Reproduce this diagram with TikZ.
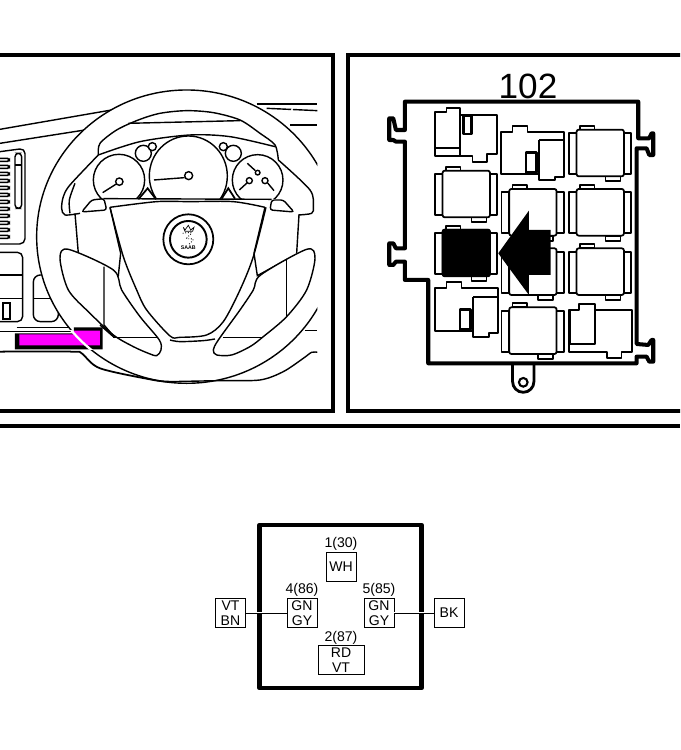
\documentclass[tikz,border=0pt]{standalone}
\usepackage{fontspec}
\setmainfont{Liberation Sans}
\usetikzlibrary{positioning}
\definecolor{marker}{RGB}{255,0,255}
\tikzset{
	panel/.style={line width=1.9pt},
	thinline/.style={line width=0.8pt},
	boxline/.style={line width=1pt, line join=round},
	pinbox/.style={draw, line width=0.4pt, minimum width=0.6cm, minimum height=0.58cm, inner sep=0pt, align=center, font=\fontsize{8}{8.6}\selectfont},
	pinlabel/.style={inner sep=0pt, font=\fontsize{8}{9}\selectfont},
	wire/.style={line width=0.5pt},
	relaybox/.pic={
		\draw[boxline] (0,22) rectangle (23,145);
		\draw[boxline] (165,22) rectangle (187,145);
		\draw[boxline] (33,0) rectangle (77,12);
		\draw[boxline] (110,152) rectangle (155,167);
		\draw[boxline, fill=white, rounded corners=1.2pt] (23,12) rectangle (165,152);
	}
}
\begin{document}
\begin{tikzpicture}[x=0.02cm, y=-0.02cm]
	\clip (0, 0) rectangle (680, 750);
	\draw[panel] (-10, 55) rectangle (333, 411);
	\draw[panel] (348, 55) rectangle (690, 411);
	\draw[panel] (0, 426) -- (680, 426);

	% dashboard and wheel
	\begin{scope}[yshift=-1.8cm, x=0.00667cm, y=-0.00667cm, thinline]
		\begin{scope}
			\clip (-10, 0) rectangle (952, 900);
			\draw (0, 118) -- (335, 60);
			\draw (0, 160) -- (255, 120);
			\draw[line width=1.4pt] (770, 42) -- (952, 42);
			\draw[dashed, dash pattern=on 14pt off 1pt] (800, 55) -- (952, 62);
			\draw (870, 105) -- (952, 105);
			\draw[rounded corners=3pt] (0, 185) -- (75, 175) -- (75, 462) -- (0, 462);
			\foreach \slat in {205, 226, ..., 450} {
				\draw[line width=0.9pt, rounded corners=1pt] (0, \slat) -- (28, \slat) -- (28, \slat+9) -- (0, \slat+9);
			}
			\draw[rounded corners=2pt] (45, 190) rectangle (65, 355);
			\draw (45, 225) -- (65, 225);
			\draw[rounded corners=3pt] (0, 487) -- (68, 487) -- (68, 695) -- (0, 695);
			\draw (0, 555) -- (68, 555);
			\draw (0, 625) -- (68, 625);
			\draw[line width=1pt] (8, 640) rectangle (30, 688);
			\draw[rounded corners=4pt] (100, 555) rectangle (175, 695);
			\draw (100, 625) -- (175, 625);
			\draw (50, 712) -- (222, 712);
			\draw (0, 725) -- (222, 725);

			\fill[white] (560, 440) ellipse [x radius=450, y radius=440];
			\fill[black] (45, 730) -- (222, 730) -- (222, 712) -- (308, 712) -- (308, 778) -- (45, 778) -- cycle;
			\fill[marker] (58, 733) -- (222, 733) -- (222, 722) -- (300, 722) -- (300, 766) -- (58, 766) -- cycle;
			\draw (560, 440) ellipse [x radius=450, y radius=440];
			\begin{scope}
				\clip (45, 722) rectangle (300, 778);
				\draw[white, line width=1.3pt] (560, 440) ellipse [x radius=450, y radius=440];
			\end{scope}
			\draw[line width=1pt] plot[smooth] coordinates {(0, 785) (215, 785) (245, 790) (300, 835) (460, 870) (510, 875)};

			% rim and hood
			\draw plot[smooth] coordinates {(295, 195) (300, 160) (350, 120) (415, 90) (480, 70) (560, 62) (640, 68) (720, 90) (780, 130) (825, 165) (835, 210)};
			\draw (385, 100) -- (720, 92);
			\draw plot[smooth] coordinates {(295, 195) (420, 155) (570, 135) (690, 140) (825, 170)};
			\draw plot[smooth] coordinates {(295, 195) (210, 285) (190, 320) (185, 355) (195, 375) (240, 370)};
			\draw plot[smooth] coordinates {(225, 280) (208, 330) (210, 370)};
			\draw plot[smooth] coordinates {(835, 210) (930, 300) (940, 350) (935, 370) (895, 375)};

			% gauges
			\begin{scope}
				\clip (200, 100) rectangle (900, 327);
				\draw[fill=white] (565, 258) ellipse [x radius=117, y radius=120];
				\draw[fill=white] (430, 190) circle [radius=24];
				\draw[fill=white] (457, 170) circle [radius=12];
				\draw[fill=white] (700, 190) circle [radius=24];
				\draw[fill=white] (670, 170) circle [radius=12];
				\draw[fill=white] (357, 270) circle [radius=77];
				\draw[fill=white] (773, 270) circle [radius=76];
			\end{scope}
			\draw (358, 275) circle [radius=11];
			\draw (308, 308) -- (349, 282);
			\draw (566, 257) circle [radius=12];
			\draw (462, 270) -- (554, 263);
			\draw (748, 272) circle [radius=9];
			\draw (795, 272) circle [radius=9];
			\draw (773, 248) circle [radius=7];
			\draw (718, 300) -- (741, 279);
			\draw (803, 279) -- (822, 302);
			\draw (742, 220) -- (766, 242);
			\draw[fill=white, line width=1pt] (415, 328) -- (443, 295) -- (468, 328);
			\draw[fill=white, line width=1pt] (665, 326) -- (685, 295) -- (705, 326);
			\draw (310, 326) -- (815, 328);
			\draw[fill=white, rounded corners=1.5pt] (245, 366) -- (275, 330) -- (312, 326) -- (320, 360) -- cycle;
			\draw[fill=white, rounded corners=1.5pt] (810, 360) -- (815, 330) -- (850, 330) -- (882, 366) -- cycle;

			% hub
			\draw (225, 370) -- (235, 490);
			\draw (897, 375) -- (890, 490);
			\draw plot[smooth] coordinates {(330, 352) (470, 335) (570, 335) (700, 335) (795, 352)};
			\draw plot[smooth] coordinates {(330, 352) (370, 500) (410, 600) (440, 660) (510, 738) (540, 742) (620, 735) (670, 695) (720, 600) (760, 500) (798, 352)};
			\draw (330, 352) -- (362, 490) -- (355, 557) -- (235, 490);
			\draw (795, 352) -- (762, 490) -- (772, 557) -- (862, 508);
			\draw (915, 722) -- (952, 722);
			\draw plot[smooth] coordinates {(510, 750) (540, 755) (610, 752) (645, 747)};

			% spokes
			\draw[fill=white] plot[smooth cycle] coordinates {(180, 505) (205, 478) (340, 540) (365, 600) (420, 680) (478, 750) (483, 780) (470, 797) (445, 790) (400, 770) (340, 735) (270, 670) (205, 600)};
			\draw[fill=white] plot[smooth cycle] coordinates {(945, 505) (920, 478) (782, 555) (760, 600) (720, 660) (655, 750) (640, 780) (650, 795) (695, 795) (750, 770) (790, 740) (860, 680) (920, 600)};
			\draw (312, 530) -- (312, 705) -- (345, 743);
			\draw (300, 705) -- (340, 740);
			\draw (340, 743) -- (470, 743);
			\draw (860, 510) -- (860, 680);
			\draw (670, 742) -- (790, 742);
			\draw plot[smooth] coordinates {(510, 875) (660, 872) (780, 870) (850, 845) (910, 805) (935, 787) (952, 787)};

			% badge
			\draw[line width=1pt] (565, 448) circle [radius=75];
			\draw[line width=1.1pt] (565, 448) circle [radius=55];
			\draw[line width=0.4pt] (550, 412) -- (555, 420) -- (565, 406) -- (572, 420) -- (582, 412) -- (578, 424) -- (555, 424) -- cycle;
			\draw[line width=0.5pt, densely dotted] plot[smooth] coordinates {(548, 430) (575, 428) (560, 445) (580, 448) (565, 465)};
			\node[inner sep=0pt, font=\bfseries\fontsize{3}{3}\selectfont] (badge) at (565, 474) {SAAB};
		\end{scope}
	\end{scope}

	% fuse box
	\begin{scope}[xshift=7.6cm, yshift=-1.2cm, x=0.00667cm, y=-0.00667cm]
		\draw[line width=2.3pt, line join=round] (75, 125) -- (775, 125) -- (775, 235) -- (808, 235) -- (815, 220) -- (820, 220) -- (820, 285) -- (808, 285) -- (800, 265) -- (770, 265) -- (770, 852) -- (805, 855) -- (815, 840) -- (820, 840) -- (820, 905) -- (808, 905) -- (800, 890) -- (770, 890) -- (770, 910) -- (145, 910) -- (145, 660) -- (75, 660) -- (75, 605) -- (48, 605) -- (40, 615) -- (28, 615) -- (28, 550) -- (40, 550) -- (48, 565) -- (75, 565) -- (75, 245) -- (48, 245) -- (40, 240) -- (28, 240) -- (28, 175) -- (40, 175) -- (48, 210) -- (75, 210) -- cycle;
		\coordinate (T1) at (398, 910);
		\coordinate (T2) at (462, 910);
		\draw[line width=1.6pt] (T1) -- (398, 965) arc[start angle=180, end angle=0, radius=32] -- (T2);
		\draw[line width=1.2pt] (430, 967) circle [radius=13];

		\foreach \px/\py in {165/320, 165/497, 365/375, 365/553, 365/730, 567/197, 567/375, 567/553} {
			\pic at (\px, \py) {relaybox};
		}
		\fill[black, rounded corners=1.2pt] (186, 507) rectangle (332, 650);

		\draw[boxline] (165, 155) -- (200, 155) -- (200, 143) -- (240, 143) -- (240, 165) -- (352, 165) -- (352, 282) -- (322, 282) -- (322, 305) -- (278, 305) -- (278, 288) -- (165, 288) -- cycle;
		\draw[boxline] (240, 155) -- (240, 288);
		\draw[boxline] (165, 265) -- (240, 265);
		\draw[boxline, line width=1.5pt] (250, 168) rectangle (275, 222);

		\foreach \px/\py in {0/0, -198/470} {
			\begin{scope}[xshift=\px*0.00667cm, yshift=-\py*0.00667cm]
				\draw[boxline] (363, 215) -- (398, 215) -- (398, 197) -- (443, 197) -- (443, 215) -- (553, 215) -- (553, 350) -- (525, 350) -- (525, 360) -- (478, 360) -- (478, 342) -- (363, 342) -- cycle;
				\draw[boxline] (478, 240) -- (553, 240);
				\draw[boxline] (478, 240) -- (478, 342);
				\draw[boxline, line width=1.5pt] (438, 278) rectangle (470, 338);
			\end{scope}
		}

		\draw[boxline] (567, 750) -- (597, 750) -- (597, 732) -- (645, 732) -- (645, 750) -- (757, 750) -- (757, 875) -- (725, 875) -- (725, 893) -- (682, 893) -- (682, 875) -- (567, 875) -- cycle;
		\draw[boxline] (570, 750) -- (570, 852) -- (645, 852) -- (645, 750);

		\fill[black] (355, 580) -- (447, 452) -- (447, 510) -- (512, 510) -- (512, 645) -- (447, 645) -- (447, 705) -- cycle;
	\end{scope}
	\node[inner sep=0pt, font=\fontsize{20}{20}\selectfont] (fusenum) at (528, 86) {102};

	% connector
	\draw[line width=2.7pt, line join=round] (259.5, 525) rectangle (421.5, 688);
	\node[pinbox] (pinA) at (341, 567) {WH};
	\node[pinbox] (pinB) at (302, 613) {GN\\GY};
	\node[pinbox] (pinC) at (379, 613) {GN\\GY};
	\node[pinbox, minimum width=0.92cm] (pinD) at (341, 660) {RD\\VT};
	\node[pinbox] (wireL) at (230.5, 613) {VT\\BN};
	\node[pinbox] (wireR) at (449, 613) {BK};
	\node[pinlabel, above=0.03cm of pinA] (lblA) {1(30)};
	\node[pinlabel, above=0.03cm of pinB] (lblB) {4(86)};
	\node[pinlabel, above=0.03cm of pinC] (lblC) {5(85)};
	\node[pinlabel, above=0cm of pinD] (lblD) {2(87)};
	\draw[white, line width=1.6pt] (wireL) -- (pinB);
	\draw[white, line width=1.6pt] (pinC) -- (wireR);
	\draw[wire] (wireL) -- (pinB);
	\draw[wire] (pinC) -- (wireR);
\end{tikzpicture}
\end{document}
